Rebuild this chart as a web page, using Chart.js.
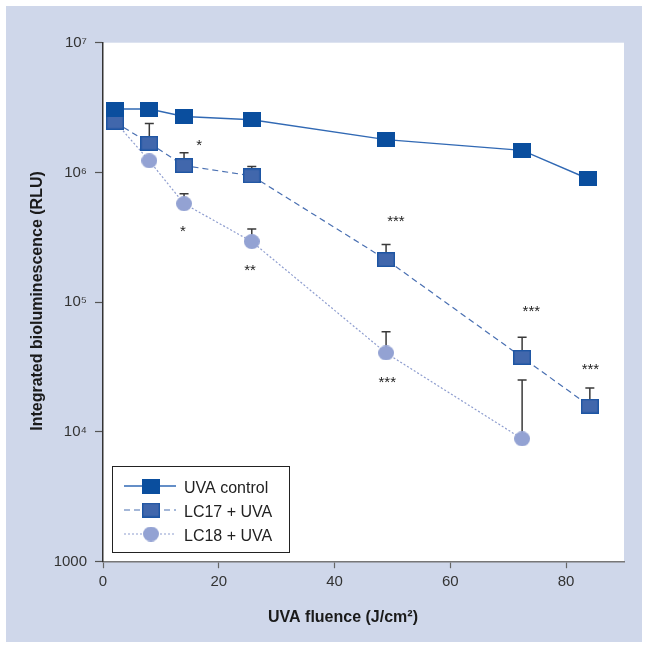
<!DOCTYPE html>
<html>
<head>
<meta charset="utf-8">
<script src="https://cdn.jsdelivr.net/npm/chart.js"></script>
<style>
  html, body { margin: 0; padding: 0; background: #fff; }
  canvas { display: block; }
</style>
</head>
<body>
<canvas id="myCanvas" width="649" height="649"></canvas>
<script>
// values
const fluence = [2.1, 8.0, 14.0, 25.7, 48.9, 72.4, 83.7];
const fluenceLC17 = [2.1, 8.0, 14.0, 25.7, 48.9, 72.4, 84.1];
const fluenceLC18 = [2.1, 8.0, 14.0, 25.7, 48.9, 72.4];

const uvaControl = [3.08e6, 3.08e6, 2.70e6, 2.55e6, 1.79e6, 1.48e6, 8.98e5];
const lc17 = [2.44e6, 1.68e6, 1.13e6, 9.42e5, 2.13e5, 3.76e4, 1.58e4];
const lc17Upper = [null, 2.38e6, 1.42e6, 1.11e6, 2.79e5, 5.36e4, 2.18e4];
const lc18 = [2.46e6, 1.23e6, 5.74e5, 2.93e5, 4.06e4, 8.85e3];
const lc18Upper = [null, null, 6.86e5, 3.67e5, 5.93e4, 2.51e4];

const seriesNames = ["UVA control", "LC17 + UVA", "LC18 + UVA"];

const xTicks = [0, 20, 40, 60, 80];
const yTicks = [1000, 1e4, 1e5, 1e6, 1e7];
const yTickLabels = ["1000", "10\u2074", "10\u2075", "10\u2076", "10\u2077"];

// significance marks
const starX = [16.6, 13.8, 25.4, 50.6, 49.1, 74.0, 84.2];
const starY = [1.73e6, 3.75e5, 1.88e5, 4.51e5, 2.56e4, 9.08e4, 3.24e4];
const starText = ["*", "*", "**", "***", "***", "***", "***"];

const FONT = "'Liberation Sans', Arial, Helvetica, sans-serif";

function pts(xs, ys) {
    return xs.map((x, i) => ({ x: x, y: ys[i] }));
}

// marker images (the markers are a little wider than tall)
function makeMarker(shape, w, h, fill, stroke, lw) {
    const c = document.createElement("canvas");
    c.width = Math.ceil(w);
    c.height = Math.ceil(h);
    const g = c.getContext("2d");
    g.fillStyle = fill;
    g.beginPath();
    if (shape === "rect") {
        g.rect(0, 0, w, h);
    } else {
        g.ellipse(w / 2, h / 2, w / 2, h / 2, 0, 0, Math.PI * 2);
    }
    g.fill();
    if (lw > 0) {
        g.strokeStyle = stroke;
        g.lineWidth = lw;
        g.strokeRect(lw / 2, lw / 2, w - lw, h - lw);
    }
    return c;
}

const markerControl = makeMarker("rect", 18, 15, "#0a4e9e", null, 0);
const markerLC17 = makeMarker("rect", 18, 15, "#4167ac", "#1d55a3", 1.4);
const markerLC18 = makeMarker("circle", 16, 15, "#93a2d3", null, 0);

const panelPlugin = {
    id: "panel",
    beforeDraw(chart) {
        const ctx = chart.ctx;
        const a = chart.chartArea;
        ctx.save();
        ctx.fillStyle = "#ffffff";
        ctx.fillRect(0, 0, chart.width, chart.height);
        ctx.fillStyle = "#cfd7ea";
        ctx.fillRect(6, 6, 636, 636);
        ctx.fillStyle = "#ffffff";
        ctx.fillRect(a.left, a.top, a.right - a.left, a.bottom - a.top);
        ctx.restore();
    }
};

const errorBarPlugin = {
    id: "errorBars",
    beforeDatasetsDraw(chart) {
        const ctx = chart.ctx;
        const ys = chart.scales.y;
        ctx.save();
        ctx.strokeStyle = "#3a3a3a";
        ctx.lineWidth = 1.5;
        chart.data.datasets.forEach((ds, di) => {
            if (!ds.upper) return;
            const meta = chart.getDatasetMeta(di);
            ds.upper.forEach((u, i) => {
                if (u == null) return;
                const p = meta.data[i];
                const yTop = ys.getPixelForValue(u);
                ctx.beginPath();
                ctx.moveTo(p.x, p.y);
                ctx.lineTo(p.x, yTop);
                ctx.moveTo(p.x - 4.5, yTop);
                ctx.lineTo(p.x + 4.5, yTop);
                ctx.stroke();
            });
        });
        ctx.restore();
    }
};

const textPlugin = {
    id: "texts",
    afterDraw(chart) {
        const ctx = chart.ctx;
        const xs = chart.scales.x;
        const ys = chart.scales.y;
        ctx.save();

        // asterisks
        ctx.fillStyle = "#222";
        ctx.font = "15px " + FONT;
        ctx.textAlign = "center";
        ctx.textBaseline = "alphabetic";
        starText.forEach((t, i) => {
            ctx.fillText(t, xs.getPixelForValue(starX[i]), ys.getPixelForValue(starY[i]) + 8.5);
        });

        // axis titles
        ctx.fillStyle = "#1a1a1a";
        ctx.font = "bold 16px " + FONT;
        ctx.fillText("UVA fluence (J/cm\u00b2)", 343, 622);
        ctx.translate(42, 301);
        ctx.rotate(-Math.PI / 2);
        ctx.fillText("Integrated bioluminescence (RLU)", 0, 0);
        ctx.setTransform(1, 0, 0, 1, 0, 0);

        // legend
        const bx = 112.5, by = 466.5, bw = 177, bh = 86;
        ctx.fillStyle = "#ffffff";
        ctx.fillRect(bx, by, bw, bh);
        ctx.strokeStyle = "#222";
        ctx.lineWidth = 1;
        ctx.strokeRect(bx, by, bw, bh);
        chart.data.datasets.forEach((ds, i) => {
            const cy = 486 + i * 24;
            ctx.save();
            ctx.strokeStyle = ds.borderColor;
            ctx.lineWidth = ds.borderWidth;
            ctx.setLineDash(ds.borderDash || []);
            ctx.beginPath();
            ctx.moveTo(124, cy);
            ctx.lineTo(176, cy);
            ctx.stroke();
            ctx.restore();
            const m = ds.pointStyle;
            ctx.drawImage(m, 151 - m.width / 2, cy - m.height / 2);
            ctx.fillStyle = "#222";
            ctx.font = "16px " + FONT;
            ctx.textAlign = "left";
            ctx.fillText(seriesNames[i], 184, cy + 7);
        });
        ctx.restore();
    }
};

const myCanvas = document.getElementById("myCanvas");

const gChart = new Chart(myCanvas, {
    type: "line",
    data: {
        datasets: [{
            label: seriesNames[0],
            data: pts(fluence, uvaControl),
            borderColor: "#3169b4",
            borderWidth: 1.4,
            pointStyle: markerControl
        }, {
            label: seriesNames[1],
            data: pts(fluenceLC17, lc17),
            upper: lc17Upper,
            borderColor: "#4a70b2",
            borderWidth: 1.2,
            borderDash: [6, 4],
            pointStyle: markerLC17
        }, {
            label: seriesNames[2],
            data: pts(fluenceLC18, lc18),
            upper: lc18Upper,
            borderColor: "#8e9dcf",
            borderWidth: 1.2,
            borderDash: [2, 2],
            pointStyle: markerLC18
        }]
    },
    options: {
        responsive: false,
        animation: false,
        devicePixelRatio: 1,
        layout: {
            padding: { left: 0, right: 25, top: 42.7, bottom: 0 }
        },
        plugins: {
            legend: { display: false },
            tooltip: { enabled: false }
        },
        scales: {
            x: {
                type: "linear",
                min: 0,
                max: 90,
                afterBuildTicks: (scale) => {
                    scale.ticks = xTicks.map(v => ({ value: v }));
                },
                afterFit: (scale) => { scale.height = 649 - 561.7; },
                grid: {
                    drawOnChartArea: false,
                    drawTicks: true,
                    tickLength: 6.5,
                    tickColor: "#666",
                    tickWidth: 1.2
                },
                border: { color: "#777", width: 1.5 },
                ticks: {
                    padding: 5,
                    color: "#333",
                    font: { family: FONT, size: 15 }
                }
            },
            y: {
                type: "logarithmic",
                min: 1000,
                max: 1e7,
                afterBuildTicks: (scale) => {
                    scale.ticks = yTicks.map(v => ({ value: v }));
                },
                afterFit: (scale) => { scale.width = 103; },
                grid: {
                    drawOnChartArea: false,
                    drawTicks: true,
                    tickLength: 8,
                    tickColor: "#555",
                    tickWidth: 1.2
                },
                border: { color: "#333", width: 1.5 },
                ticks: {
                    padding: 8,
                    color: "#333",
                    font: { family: FONT, size: 15 },
                    callback: (v) => {
                        const i = yTicks.indexOf(v);
                        return i >= 0 ? yTickLabels[i] : "";
                    }
                }
            }
        }
    },
    plugins: [panelPlugin, errorBarPlugin, textPlugin]
});
</script>
</body>
</html>
